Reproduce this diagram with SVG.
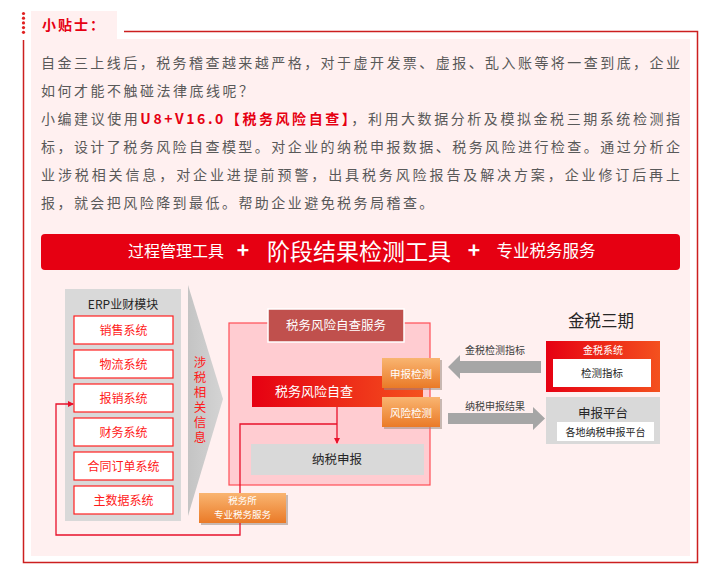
<svg xmlns="http://www.w3.org/2000/svg" width="720" height="576" viewBox="0 0 720 576">
<defs>
<style>
text{font-family:"Noto Sans CJK SC","Noto Sans",sans-serif;}
.para{font-size:14px;fill:#595959;}
.hl{fill:#e60012;font-weight:bold;}
.sys rect{fill:#fff;stroke:#ff2020;stroke-width:1.2;}
.sys text{font-size:12px;fill:#ff1a1a;text-anchor:middle;}
.wt{fill:#fff;text-anchor:middle;}
.dk{fill:#262626;text-anchor:middle;}
.lbl{font-size:10px;fill:#404040;text-anchor:middle;}
.conn{fill:none;stroke:#e8102a;stroke-width:1.3;}
.garrow{fill:#a6a6a6;}
</style>
<linearGradient id="redg" x1="0" y1="0" x2="1" y2="0">
<stop offset="0" stop-color="#e60012"/><stop offset="1" stop-color="#f4511e"/>
</linearGradient>
<linearGradient id="orag" x1="0" y1="0" x2="0" y2="1">
<stop offset="0" stop-color="#f9b571"/><stop offset="1" stop-color="#ea7a27"/>
</linearGradient>
<linearGradient id="chev" x1="0" y1="0" x2="1" y2="0">
<stop offset="0" stop-color="#c4c4c4"/><stop offset="1" stop-color="#d4d4d4"/>
</linearGradient>
<marker id="arr" markerWidth="6" markerHeight="6" refX="5" refY="3" orient="auto" markerUnits="userSpaceOnUse">
<path d="M0,0 L6,3 L0,6 z" fill="#e8102a"/>
</marker>
</defs>

<!-- frame -->
<g id="frame">
<rect x="31" y="39" width="659" height="517" fill="#fff0f0"/>
<rect x="31" y="11" width="86" height="28" fill="#fff0f0"/>
<path d="M124 31.5 H697.5 V562.5 H23.5 V40" fill="none" stroke="#cc1f1f" stroke-width="1.5"/>
<g fill="#e02020">
<circle cx="23.5" cy="13.5" r="1.6"/><circle cx="23.5" cy="18.2" r="1.6"/><circle cx="23.5" cy="22.9" r="1.6"/><circle cx="23.5" cy="27.6" r="1.6"/><circle cx="23.5" cy="32.3" r="1.6"/>
</g>
<text x="42" y="30" font-size="14" font-weight="bold" fill="#e60012" letter-spacing="2">小贴士：</text>
</g>

<!-- paragraph -->
<g id="paragraph" class="para">
<text class="para" x="41" y="68" textLength="639" lengthAdjust="spacing">自金三上线后，税务稽查越来越严格，对于虚开发票、虚报、乱入账等将一查到底，企业</text>
<text class="para" x="41" y="96" letter-spacing="2.5">如何才能不触碰法律底线呢？</text>
<text class="para" x="41" y="124" textLength="639" lengthAdjust="spacing">小编建议使用<tspan class="hl">U8+V16.0【税务风险自查】</tspan>，利用大数据分析及模拟金税三期系统检测指</text>
<text class="para" x="41" y="152" textLength="639" lengthAdjust="spacing">标，设计了税务风险自查模型。对企业的纳税申报数据、税务风险进行检查。通过分析企</text>
<text class="para" x="41" y="180" textLength="639" lengthAdjust="spacing">业涉税相关信息，对企业进提前预警，出具税务风险报告及解决方案，企业修订后再上</text>
<text class="para" x="41" y="208" letter-spacing="2.45">报，就会把风险降到最低。帮助企业避免税务局稽查。</text>
</g>

<!-- banner -->
<g id="banner">
<rect x="41" y="234" width="639" height="36" rx="4" fill="#e60012"/>
<text x="176" y="257" font-size="16" class="wt">过程管理工具</text>
<text x="243" y="258" font-size="21" class="wt" font-weight="bold">+</text>
<text x="359" y="260" font-size="23" class="wt">阶段结果检测工具</text>
<text x="474" y="258" font-size="21" class="wt" font-weight="bold">+</text>
<text x="546" y="257" font-size="16.5" class="wt">专业税务服务</text>
</g>

<!-- ERP -->
<g id="erp">
<rect x="65" y="289" width="116" height="232" fill="#d9d9d9"/>
<text x="123" y="309" font-size="12" class="dk" fill="#404040">ERP业财模块</text>
</g>
<g id="sys1" class="sys"><rect x="74" y="316" width="99" height="28"/><text x="123.5" y="334.5">销售系统</text></g>
<g id="sys2" class="sys"><rect x="74" y="350" width="99" height="28"/><text x="123.5" y="368.5">物流系统</text></g>
<g id="sys3" class="sys"><rect x="74" y="384" width="99" height="28"/><text x="123.5" y="402.5">报销系统</text></g>
<g id="sys4" class="sys"><rect x="74" y="418" width="99" height="28"/><text x="123.5" y="436.5">财务系统</text></g>
<g id="sys5" class="sys"><rect x="74" y="452" width="99" height="28"/><text x="123.5" y="470.5">合同订单系统</text></g>
<g id="sys6" class="sys"><rect x="74" y="486" width="99" height="28"/><text x="123.5" y="504.5">主数据系统</text></g>

<!-- chevron -->
<g id="chevron">
<polygon points="188,285 223,399 188,516" fill="url(#chev)"/>
<text x="200" y="355.5" font-size="12.5" fill="#ff1a1a" writing-mode="vertical-rl" letter-spacing="2.5">涉税相关信息</text>
</g>

<!-- self-check service area -->
<g id="service">
<rect x="229" y="323" width="201" height="162" fill="#ffccd1" stroke="#ff4d55" stroke-width="1.2"/>
</g>
<g id="service-title">
<rect x="268" y="309" width="136" height="33" fill="#c0504d" stroke="#fff" stroke-width="1.5"/>
<text x="336" y="330" font-size="12.5" class="wt">税务风险自查服务</text>
</g>
<g id="selfcheck">
<rect x="252" y="376" width="171" height="31" fill="url(#redg)"/>
<text x="314" y="396" font-size="13" class="wt">税务风险自查</text>
</g>
<g id="declare">
<rect x="251" y="444" width="173" height="31" fill="#d9d9d9"/>
<text x="337" y="464" font-size="12.5" class="dk">纳税申报</text>
</g>
<g id="check1">
<rect x="384" y="360" width="58" height="30" fill="#9a8a80" opacity="0.55"/>
<rect x="382" y="358" width="58" height="30" fill="url(#orag)"/>
<text x="411" y="377.5" font-size="10.5" class="wt">申报检测</text>
</g>
<g id="check2">
<rect x="384" y="399" width="58" height="30" fill="#9a8a80" opacity="0.55"/>
<rect x="382" y="397" width="58" height="30" fill="url(#orag)"/>
<text x="411" y="416.5" font-size="10.5" class="wt">风险检测</text>
</g>
<g id="taxoffice">
<rect x="201" y="495" width="87" height="30" fill="#9a8a80" opacity="0.55"/>
<rect x="199" y="493" width="87" height="30" fill="url(#orag)"/>
<text font-size="9.5" class="wt"><tspan x="242.5" y="504">税务所</tspan><tspan x="242.5" dy="14">专业税务服务</tspan></text>
</g>

<!-- Golden Tax III -->
<g id="jinshui">
<text x="601" y="327" font-size="16.5" class="dk" fill="#404040">金税三期</text>
<rect x="546" y="341" width="114" height="51" fill="url(#redg)"/>
<text x="603" y="354" font-size="10" class="wt" fill="#ffe0e0">金税系统</text>
<rect x="553" y="359" width="98" height="28" fill="#fff"/>
<text x="602" y="377" font-size="10.5" class="dk">检测指标</text>
</g>
<g id="platform">
<rect x="546" y="397" width="114" height="47" fill="#d9d9d9"/>
<text x="603" y="418" font-size="12.5" class="dk">申报平台</text>
<rect x="557" y="422" width="97" height="19" fill="#fff"/>
<text x="605.5" y="435.5" font-size="10" class="dk">各地纳税申报平台</text>
</g>

<!-- connectors -->
<g id="connectors">
<polygon class="garrow" points="541,361 460,361 460,355 448,367 460,379 460,373 541,373"/>
<text class="lbl" x="495" y="354">金税检测指标</text>
<polygon class="garrow" points="448,413 533,413 533,407 545,418.5 533,430 533,424 448,424"/>
<text class="lbl" x="495" y="410">纳税申报结果</text>
<path class="conn" d="M337 407 V443" marker-end="url(#arr)"/>
<path class="conn" d="M240 493 V424 H337"/>
<path class="conn" d="M240 523 V535 H56 V404 H73" marker-end="url(#arr)"/>
</g>
</svg>
